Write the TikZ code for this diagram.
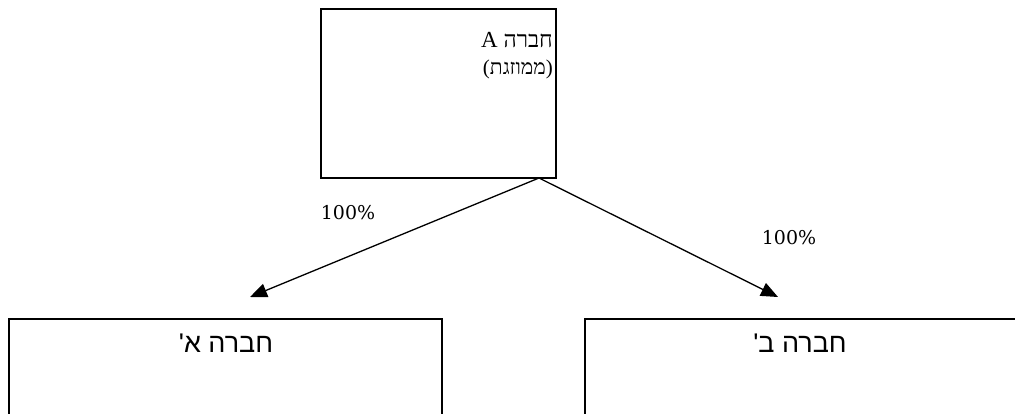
\documentclass[tikz,border=0pt]{standalone}
\usepackage{fontspec}
\setmainfont{Liberation Serif}
\newfontfamily\hebserif[Script=Hebrew]{Liberation Serif}
\newfontfamily\hebsans[Script=Hebrew]{Liberation Sans}
\newfontfamily\pctfont{DejaVu Serif}
\TeXXeTstate=1
\usetikzlibrary{arrows.meta}
\begin{document}
\begin{tikzpicture}[x=1pt,y=-1pt,
  boxstyle/.style={draw,line width=1.5pt,inner sep=0pt},
  conn/.style={line width=1.3pt,-{Triangle[length=17pt,width=14pt]}},
  pct/.style={font=\pctfont\fontsize{19}{22}\selectfont},
  subtext/.style={font=\hebsans\fontsize{27}{30}\selectfont}]
\useasboundingbox (0,0) rectangle (1015,413);
\node[boxstyle,minimum width=235pt,minimum height=169pt] (top) at (438.5,93.5) {};
\node[boxstyle,minimum width=433pt,minimum height=140pt] (left) at (225.5,389) {};
\node[boxstyle,minimum width=440pt,minimum height=140pt] (right) at (805,389) {};
\node[anchor=east,align=right,inner sep=0pt,font=\hebserif\fontsize{23}{27}\selectfont] (toptext) at (553,56)
  {\beginR חברה A\endR\\ {\fontsize{21}{24}\selectfont\beginR(ממוזגת)\endR}};
\node[subtext] (lefttext) at (226,343) {\beginR חברה א'\endR};
\node[subtext] (righttext) at (800,343) {\beginR חברה ב'\endR};
\coordinate (src) at (539,178);
\coordinate (lt) at (250,297);
\coordinate (rt) at (778,297);
\draw[conn] (src) -- (lt);
\draw[conn] (src) -- (rt);
\node[pct] (p1) at (348,213) {100\%};
\node[pct] (p2) at (789,238) {100\%};
\end{tikzpicture}
\end{document}
